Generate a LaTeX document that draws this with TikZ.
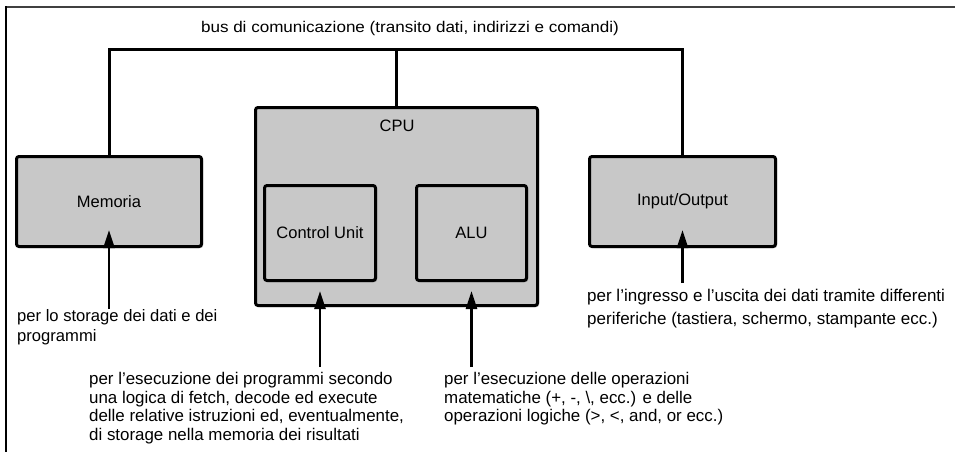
\documentclass[tikz,border=0pt]{standalone}
\usepackage{fontspec}
\setmainfont{Liberation Sans}
\newfontfamily\widefont[FakeStretch=1.1]{Liberation Sans}
\usetikzlibrary{arrows.meta,shadows,calc}
\definecolor{boxgray}{RGB}{200,200,200}
\tikzset{
  unit/.style={draw=black, line width=3pt, fill=boxgray, rounded corners=2.5pt,
    drop shadow={shadow xshift=1.5pt, shadow yshift=-1.5pt, opacity=0.3, fill=black},
    inner sep=0pt, font=\fontsize{16.5}{19}\selectfont},
  bus/.style={line width=3pt, line cap=rect},
  feed/.style={line width=2.5pt, -{Triangle[length=18pt,width=11pt]}},
  note/.style={inner sep=0pt, anchor=north west, align=left},
}
\begin{document}
\begin{tikzpicture}[x=1pt,y=-1pt]
  \useasboundingbox (0,0) rectangle (955,452);
  % page frame
  \draw[line width=2pt, black!75] (5,7.5) -- (955,7.5);
  \draw[line width=2pt] (5.5,6.5) -- (5.5,452);

  % bus label
  \node[inner sep=0pt, font=\widefont\fontsize{15.5}{18}\selectfont] (bustext) at (410,28)
    {bus di comunicazione (transito dati, indirizzi e comandi)};
  \coordinate (busy) at (0,50);

  % units
  \node[unit, minimum width=185pt, minimum height=90pt] (mem) at (109,201.5) {Memoria};
  \node[unit, minimum width=282pt, minimum height=198pt] (cpu) at (396.5,206.5) {};
  \node[font=\fontsize{16.5}{19}\selectfont, inner sep=0pt] (cpulabel) at (397,126) {CPU};
  \node[unit, minimum width=111pt, minimum height=95pt] (cu) at (320,233) {Control Unit};
  \node[unit, minimum width=110pt, minimum height=95pt] (alu) at (471.5,233) {ALU};
  \node[unit, minimum width=186pt, minimum height=90pt] (io) at (682.5,201.5) {Input/Output};

  % bus wiring
  \draw[bus] (mem.north) -- (mem.north |- busy) -- (io.north |- busy) -- (io.north);
  \draw[bus] (cpu.north) -- (cpu.north |- busy);

  % descriptions
  \node[note, font=\fontsize{16.6}{20}\selectfont] (memnote) at (17,309)
    {per lo storage dei dati e dei\\programmi};
  \node[note, font=\fontsize{16.9}{18.7}\selectfont] (cunote) at (89,372)
    {per l’esecuzione dei programmi secondo\\una logica di fetch, decode ed execute\\delle relative istruzioni ed, eventualmente,\\di storage nella memoria dei risultati};
  \node[note, font=\fontsize{16.9}{18.7}\selectfont] (alunote) at (444,372)
    {per l’esecuzione delle operazioni\\matematiche (+, -, \textbackslash, ecc.) e delle\\operazioni logiche (>, <, and, or ecc.)};
  \node[note, font=\fontsize{17}{23}\selectfont] (ionote) at (587,289)
    {per l’ingresso e l’uscita dei dati tramite differenti\\periferiche (tastiera, schermo, stampante ecc.)};

  % pointers from descriptions to units
  \coordinate (memtip) at ($(mem.south)+(0,-18)$);
  \coordinate (iotip) at ($(io.south)+(0,-18)$);
  \coordinate (cutip) at ($(cu.south)+(0,9)$);
  \coordinate (alutip) at ($(alu.south)+(0,9)$);
  \draw[feed] (memnote.north -| mem.south) -- (memtip);
  \draw[feed] ($(ionote.north -| io.south)+(0,-6)$) -- (iotip);
  \draw[feed] ($(cunote.north -| cu.south)+(0,-5)$) -- (cutip);
  \draw[feed] ($(alunote.north -| alu.south)+(0,-5)$) -- (alutip);
\end{tikzpicture}
\end{document}
